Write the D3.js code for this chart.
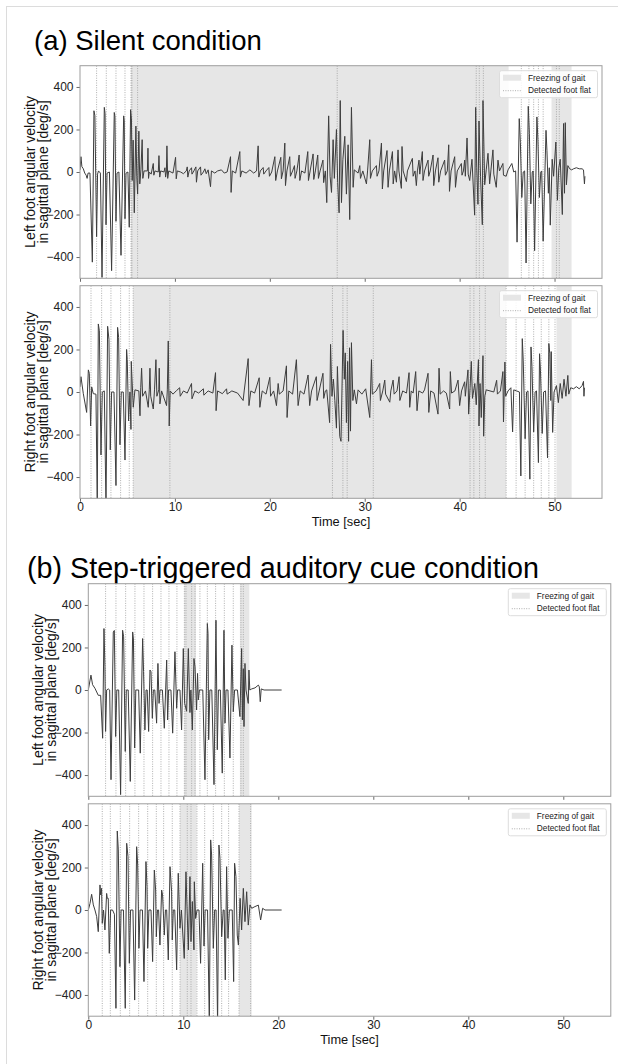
<!DOCTYPE html>
<html><head><meta charset="utf-8">
<script src="https://cdn.jsdelivr.net/npm/d3@7"></script>
<style>body{margin:0;background:#fff} svg{display:block}</style>
</head><body><svg id="c" width="618" height="1064"></svg>
<script>
// ---------- data ----------
const xTicks = [0, 10, 20, 30, 40, 50];
const yTicks = [-400, -200, 0, 200, 400];
const titleA = "(a) Silent condition";
const titleB = "(b) Step-triggered auditory cue condition";
const legendLabels = ["Freezing of gait", "Detected foot flat"];
const labelLeft = ["Left foot angular velocity", "in sagittal plane [deg/s]"];
const labelRight = ["Right foot angular velocity", "in sagittal plane [deg/s]"];

const fogSilentLeft = [[5.37, 45.16], [49.68, 51.79]];
const fogSilentRight = [[5.6, 44.9], [50.2, 51.8]];
const fogCueLeft = [[10.1, 11.33], [15.96, 16.95]];
const fogCueRight = [[9.65, 11.4], [15.86, 17.19]];

const flatSilentLeft = [1.75, 2.77, 3.79, 4.74, 5.37, 5.47, 6.07, 27.1, 41.75, 42.07, 42.5, 46.5, 47.3, 47.8, 48.3, 48.8, 50.2, 50.5];
const flatSilentRight = [1.16, 2.28, 3.26, 4.28, 5.19, 5.6, 9.47, 26.6, 27.7, 28.15, 30.9, 41.1, 41.5, 42.1, 42.7, 44.9, 45.95, 46.9, 47.8, 48.6, 49.4, 50.05];
const flatCueLeft = [1.82, 2.91, 3.93, 4.91, 5.86, 6.77, 7.65, 8.49, 9.33, 10.11, 10.28, 10.88, 11.23, 11.75, 12.53, 13.4, 14.32, 15.26, 16.07, 16.32];
const flatCueRight = [1.47, 2.32, 3.37, 4.35, 5.3, 6.25, 7.16, 7.93, 8.84, 9.65, 10.42, 10.81, 11.44, 12.25, 13.16, 14.04, 14.77, 15.86, 17.09];

// [time (s), angular velocity (deg/s)]
const silentLeft = [[0,10],[0.1,72],[0.2,25],[0.35,15],[0.5,-5],[0.65,-15],[0.75,-30],[0.85,-5],[1.05,-5],[1.3,-424],[1.47,288],[1.57,265],[1.75,-304],[1.85,-10],[1.95,5],[2.15,-5],[2.32,-496],[2.56,304],[2.64,275],[2.74,-248],[2.85,-5],[3.1,0],[3.33,-464],[3.61,280],[3.68,262],[3.79,-232],[3.9,-5],[4.1,0],[4.32,-392],[4.6,264],[4.66,240],[4.74,-220],[4.85,-5],[5.05,0],[5.19,-260],[5.33,293],[5.42,250],[5.5,-40],[5.6,150],[5.72,-192],[5.89,216],[5.98,-20],[6.07,-104],[6.2,192],[6.3,-56],[6.42,10],[6.55,152],[6.62,-30],[6.75,5],
[7.1,5],[7.16,112],[7.22,-30],[7.3,0],[7.5,-10],[7.72,40],[7.78,-15],[7.9,5],[8.25,0],[8.32,77],[8.4,-24],[8.5,5],[8.85,0],[8.95,20],[9.02,-24],[9.1,0],[9.16,123],[9.24,-30],[9.35,5],[9.8,-5],[10.07,69],[10.14,-32],[10.25,5],[10.6,0],[10.9,-8],[11.2,5],[11.3,24],[11.36,-24],[11.5,5],[11.75,20],[11.8,-10],[12.0,5],[12.21,24],[12.27,-48],[12.4,5],[12.7,24],[12.75,-15],[13.0,0],[13.16,15],[13.3,-8],[13.5,10],[13.75,-69],[13.85,5],[14.2,-5],[14.5,5],[14.9,10],[15.2,-5],[15.5,0],[15.86,72],[15.92,-96],[16.05,5],[16.4,-5],[16.84,96],[16.9,-24],[17.05,5],[17.5,-5],[17.9,10],[18.3,-5],[18.6,5],[18.77,123],[18.84,-24],[19.0,5],[19.3,21],[19.36,-10],[19.6,5],[19.9,21],[19.96,-20],[20.2,0],[20.53,72],[20.62,-40],[20.8,5],[21.16,69],[21.22,-32],[21.4,5],[21.58,136],[21.65,-64],[21.8,5],[22.1,72],[22.17,-20],[22.4,5],[22.6,30],[22.66,-30],[22.85,5],[23.09,80],[23.16,-40],[23.35,5],[23.7,-5],[24.0,96],[24.07,-40],[24.25,5],[24.56,85],[24.63,-35],[24.8,5],[25.05,80],[25.12,-30],[25.3,5],[25.6,56],[25.67,-50],[25.85,5],
[26.0,-144],[26.2,264],[26.35,-20],[26.5,-96],[26.67,152],[26.8,-30],[27.02,200],[27.15,-50],[27.3,-192],[27.42,336],[27.55,-144],[27.7,60],[27.9,168],[28.07,-104],[28.25,128],[28.42,-224],[28.6,304],[28.78,-72],[28.9,10],
[29.3,-5],[29.48,30],[29.55,-30],[29.8,5],[30.18,-56],[30.3,5],[30.53,152],[30.6,-30],[30.8,5],[31.23,30],[31.3,-20],[31.5,5],[31.76,136],[31.86,-80],[32.0,5],[32.35,101],[32.46,-72],[32.6,5],[32.92,96],[33.0,-56],[33.15,5],[33.34,-48],[33.51,104],[33.6,5],[33.86,-77],[33.93,120],[34.05,5],[34.39,-45],[34.5,5],[35.02,64],[35.1,-20],[35.3,5],[35.44,-64],[35.55,5],[35.72,56],[35.8,-10],[36.07,96],[36.14,-40],[36.3,5],[36.67,56],[36.74,-20],[36.9,5],[37.2,80],[37.27,-64],[37.45,5],[37.72,67],[37.8,-48],[38.0,5],[38.42,56],[38.5,-15],[38.7,5],[38.85,128],[38.93,-91],[39.1,5],[39.48,72],[39.56,-72],[39.75,5],[40.18,40],[40.25,-15],[40.4,5],[40.53,56],[40.6,-20],
[40.78,160],[40.9,-10],[41.06,-40],[41.3,60],[41.58,-203],[41.69,304],[41.8,20],[41.93,-152],[42.04,240],[42.2,-20],[42.39,-248],[42.46,336],[42.64,-60],[42.8,10],[42.99,88],[43.16,-56],[43.3,10],[43.51,104],[43.6,-10],[43.86,-72],[44.04,56],[44.2,5],[44.56,40],[44.62,-15],[44.9,-20],[45.1,10],[45.5,40],[45.7,0],[45.9,5],
[46.05,-330],[46.28,251],[46.4,140],[46.55,-120],[46.7,0],[46.85,5],[47.0,-428],[47.23,309],[47.35,180],[47.5,-150],[47.65,0],[47.75,5],[47.9,-370],[48.14,259],[48.25,150],[48.4,-120],[48.55,0],[48.65,5],[48.8,-325],[49.1,196],[49.2,100],[49.35,-100],[49.45,20],[49.55,-250],[49.75,60],[49.9,-20],[50.14,141],[50.3,-133],[50.45,20],[50.6,60],[50.82,-200],[50.95,228],[51.05,-100],[51.13,232],[51.25,-60],[51.4,30],
[51.6,15],[51.8,10],[52.0,15],[52.3,20],[52.6,15],[52.9,15],[53.05,10],[53.15,-56],[53.2,-20]];

const silentRight = [[0,24],[0.1,72],[0.35,-8],[0.7,-96],[0.88,104],[0.98,88],[1.12,-160],[1.23,24],[1.4,-8],[1.68,-10],[1.82,-540],[1.93,320],[2.04,288],[2.21,-296],[2.35,0],[2.56,5],[2.74,-540],[2.91,309],[3.05,248],[3.19,-272],[3.33,0],[3.58,0],[3.79,-440],[3.96,304],[4.07,256],[4.21,-248],[4.35,0],[4.56,0],[4.74,-320],[4.91,200],[4.98,152],[5.12,-136],[5.26,0],[5.37,-176],[5.4,144],[5.54,0],[5.61,-72],[5.79,10],
[6.2,5],[6.32,-112],[6.4,20],[6.49,112],[6.6,-20],[6.9,5],[7.19,-72],[7.3,10],[7.37,112],[7.45,-20],[7.72,-80],[7.85,10],[8.0,152],[8.1,-20],[8.3,10],[8.35,112],[8.42,-56],[8.6,5],[9.12,-64],[9.2,10],[9.3,240],[9.4,-160],[9.5,5],[9.8,-10],[10.2,8],[10.5,20],[10.56,-20],[10.9,5],[11.3,-5],[11.75,40],[11.8,-32],[12.1,5],[12.5,-5],[13.0,15],[13.05,-15],[13.5,5],[14.0,-5],[14.28,91],[14.34,-88],[14.5,5],[15.0,-8],[15.44,15],[15.5,-10],[16.0,5],[16.6,-5],[17.19,-40],[17.3,5],[17.72,157],[17.8,-64],[18.0,5],[18.4,-5],[18.88,67],[18.95,-72],[19.2,5],[19.6,-10],[20.0,69],[20.08,-20],[20.4,5],[20.7,-64],[20.88,40],[21.0,-10],[21.4,5],[21.75,123],[21.82,-120],[22.0,5],[22.4,-10],[22.8,152],[22.98,-64],[23.2,5],[23.6,-10],[24.03,80],[24.2,-64],[24.4,5],[24.9,72],[24.98,-40],[25.2,5],[25.6,88],[25.68,-30],[25.85,5],
[26.0,10],[26.3,-144],[26.4,224],[26.55,-20],[26.7,60],[26.85,-40],[27.02,-170],[27.12,120],[27.25,-60],[27.37,-210],[27.5,-232],[27.72,290],[27.85,60],[27.95,184],[28.07,-144],[28.2,144],[28.3,-232],[28.4,208],[28.5,-184],[28.6,232],[28.75,-40],[28.9,10],
[29.13,-56],[29.3,10],[29.7,-10],[30.1,15],[30.53,-120],[30.71,152],[30.8,-10],[31.2,5],[31.58,40],[31.65,-40],[31.9,5],[32.11,56],[32.2,-10],[32.64,-48],[32.75,5],[32.99,56],[33.1,-10],[33.4,5],[33.62,72],[33.7,-40],[34.0,5],[34.4,-5],[34.67,91],[34.74,-72],[34.9,5],[35.1,-5],[35.37,96],[35.51,-88],[35.7,5],[36.1,-5],[36.3,10],[36.67,88],[36.75,-96],[36.95,5],[37.3,-5],[37.72,-104],[37.83,112],[37.95,-10],[38.3,5],[38.6,-5],[38.95,-80],[39.02,96],[39.15,-5],[39.5,5],[39.83,56],[40.0,-64],[40.2,5],[40.53,48],[40.6,-20],
[40.88,104],[40.95,-104],[41.1,20],[41.23,144],[41.35,-30],[41.6,40],[41.75,-60],[41.98,152],[42.04,-160],[42.15,40],[42.28,-120],[42.46,171],[42.53,-208],[42.65,-20],[42.8,10],[43.2,5],[43.6,0],[43.9,55],[43.98,-10],[44.3,5],[44.56,96],[44.62,-141],[44.77,141],[44.85,-20],[45.1,5],[45.4,20],[45.58,-188],[45.7,10],[46.0,5],[46.3,0],
[46.45,-395],[46.6,251],[46.7,150],[46.9,-220],[47.05,0],[47.2,5],[47.4,-410],[47.52,212],[47.62,120],[47.8,-188],[47.95,0],[48.1,5],[48.3,-332],[48.42,180],[48.52,100],[48.7,-195],[48.85,0],[49.05,5],[49.26,-310],[49.4,228],[49.5,180],[49.6,-40],[49.65,190],[49.8,-190],[49.95,0],
[50.2,30],[50.4,-50],[50.6,40],[50.8,-30],[51.0,60],[51.2,-20],[51.4,78],[51.5,-10],[51.7,20],[52.0,15],[52.3,25],[52.6,15],[52.9,30],[53.05,50],[53.1,-20],[53.15,20]];

const cueLeft = [[0,0],[0.28,70],[0.45,25],[0.7,8],[1.05,-25],[1.3,-25],[1.51,-227],[1.65,289],[1.75,109],[1.82,-195],[1.93,0],[2.1,5],[2.25,0],[2.39,-422],[2.63,273],[2.74,280],[2.88,-219],[3.0,0],[3.2,0],[3.4,-492],[3.61,281],[3.72,250],[3.89,-289],[4.0,0],[4.2,0],[4.42,-430],[4.67,273],[4.75,240],[4.88,-273],[5.0,0],[5.3,0],[5.47,-297],[5.72,242],[5.82,86],[5.96,-188],[6.08,0],[6.2,0],[6.35,-195],[6.49,94],[6.6,86],[6.74,-133],[6.85,0],[7.0,0],[7.19,-156],[7.33,125],[7.45,-63],[7.55,0],[7.8,0],[8.0,-180],[8.25,141],[8.35,-141],[8.45,0],[8.7,0],[8.88,-203],[9.12,180],[9.3,-86],[9.4,0],[9.65,0],[9.82,-188],[10.0,195],[10.14,-63],[10.35,-100],[10.53,195],[10.7,-106],[10.8,0],[10.95,-188],[11.12,148],[11.23,109],[11.4,-94],[11.5,78],[11.58,-47],[11.7,0],[12.05,0],[12.28,-422],[12.53,313],[12.6,266],[12.67,-234],[12.8,0],[13.0,0],[13.23,-445],[13.44,328],[13.58,-281],[13.7,0],[13.9,0],[14.1,-391],[14.28,281],[14.39,-156],[14.5,0],[14.7,0],[14.91,-320],[15.12,211],[15.26,-102],[15.4,0],[15.7,0],[15.96,-125],[16.14,195],[16.22,-141],[16.32,100],[16.39,-172],[16.49,125],[16.6,0],[16.84,-63],[16.91,94],[17.0,0],[17.2,5],[17.55,10],[17.9,23],[18.0,15],[18.1,-55],[18.2,5],[18.5,0],[20.35,0]];

const cueRight = [[0,0],[0.18,31],[0.35,74],[0.53,24],[0.7,0],[0.88,-31],[1.05,-102],[1.23,118],[1.3,71],[1.4,102],[1.47,-63],[1.6,0],[1.75,-94],[1.93,78],[2.0,55],[2.1,55],[2.21,-204],[2.35,0],[2.55,0],[2.75,-20],[2.91,-463],[3.05,372],[3.16,283],[3.33,-267],[3.45,0],[3.7,0],[3.89,-463],[4.04,314],[4.18,251],[4.32,-251],[4.45,0],[4.7,0],[4.88,-424],[5.09,298],[5.2,212],[5.33,-180],[5.45,0],[5.7,0],[5.86,-337],[6.07,228],[6.18,110],[6.25,-180],[6.38,0],[6.6,0],[6.77,-243],[6.95,188],[7.09,94],[7.16,-126],[7.28,0],[7.4,0],[7.54,-165],[7.72,94],[7.82,71],[8.0,-118],[8.12,0],[8.25,0],[8.42,-235],[8.6,204],[8.77,86],[8.84,-141],[8.95,0],[9.1,0],[9.3,-282],[9.47,173],[9.65,-86],[9.8,0],[10.1,-228],[10.28,180],[10.53,-188],[10.7,157],[10.81,-149],[10.95,40],[11.12,-188],[11.16,133],[11.3,-40],[11.45,0],[11.65,0],[11.82,-251],[12.04,220],[12.18,-170],[12.3,0],[12.55,0],[12.74,-540],[12.88,330],[12.98,259],[13.16,-180],[13.3,0],[13.45,0],[13.61,-540],[13.75,306],[13.86,243],[14.04,-126],[14.2,0],[14.3,0],[14.42,-329],[14.56,204],[14.7,-133],[14.85,0],[15.15,0],[15.3,-337],[15.4,220],[15.54,157],[15.68,-118],[15.8,-165],[15.98,55],[16.14,-94],[16.32,102],[16.49,-55],[16.67,86],[16.84,-71],[17.02,24],[17.2,8],[17.54,16],[17.9,23],[18.14,-47],[18.35,8],[18.6,0],[20.35,0]];

// ---------- layout ----------
const svg = d3.select("#c");
const FONT = "'Liberation Sans', Arial, Helvetica, sans-serif";
svg.append("line").attr("x1",6).attr("x2",618).attr("y1",6.5).attr("y2",6.5).attr("stroke","#dcdcdc");
svg.append("line").attr("x1",6.5).attr("x2",6.5).attr("y1",6).attr("y2",1064).attr("stroke","#dcdcdc");

svg.append("text").attr("x",34).attr("y",50).attr("font-family",FONT).attr("font-size",27.5).attr("fill","#000").text(titleA);
svg.append("text").attr("x",27).attr("y",578).attr("font-family",FONT).attr("font-size",28.7).attr("fill","#000").text(titleB);

const panels = [
  {sig: silentLeft, fog: fogSilentLeft, flat: flatSilentLeft, label: labelLeft, x: 80, y: 65.7, w: 522, h: 212.6, xl: false, id: "p0"},
  {sig: silentRight, fog: fogSilentRight, flat: flatSilentRight, label: labelRight, x: 80, y: 285.7, w: 522, h: 212.6, xl: true, id: "p1"},
  {sig: cueLeft, fog: fogCueLeft, flat: flatCueLeft, label: labelLeft, x: 88.3, y: 583.7, w: 522.5, h: 212.6, xl: false, id: "p2"},
  {sig: cueRight, fog: fogCueRight, flat: flatCueRight, label: labelRight, x: 88.3, y: 803.8, w: 522.5, h: 212.4, xl: true, id: "p3"}
];

const fmt = d => d < 0 ? "\u2212" + Math.abs(d) : String(d);

panels.forEach(p => {
  const x = d3.scaleLinear().domain([0, 55]).range([p.x, p.x + p.w]);
  const y = d3.scaleLinear().domain([-500, 500]).range([p.y + p.h, p.y]);
  const g = svg.append("g");
  g.append("clipPath").attr("id", p.id).append("rect")
    .attr("x", p.x).attr("y", p.y).attr("width", p.w).attr("height", p.h);
  const inner = g.append("g").attr("clip-path", `url(#${p.id})`);
  inner.selectAll("rect.fog").data(p.fog).enter().append("rect")
    .attr("x", d => x(d[0])).attr("width", d => x(d[1]) - x(d[0]))
    .attr("y", p.y).attr("height", p.h).attr("fill", "#e6e6e6");
  inner.selectAll("line.flat").data(p.flat).enter().append("line")
    .attr("x1", d => x(d)).attr("x2", d => x(d)).attr("y1", p.y).attr("y2", p.y + p.h)
    .attr("stroke", "#9a9a9a").attr("stroke-width", 0.8).attr("stroke-dasharray", "1,1.4");
  inner.append("path").datum(p.sig)
    .attr("d", d3.line().x(d => x(d[0])).y(d => y(d[1])))
    .attr("fill", "none").attr("stroke", "#3d3d3d").attr("stroke-width", 1).attr("stroke-linejoin", "round");
  // axes
  const ya = g.append("g").attr("transform", `translate(${p.x},0)`)
    .call(d3.axisLeft(y).tickValues(yTicks).tickSize(3.5).tickPadding(3).tickFormat(fmt));
  ya.select(".domain").remove();
  ya.selectAll("line").attr("stroke", "#444").attr("stroke-width", 0.8);
  ya.selectAll("text").attr("font-family", FONT).attr("font-size", 12).attr("fill", "#222");
  const xa = g.append("g").attr("transform", `translate(0,${p.y + p.h})`)
    .call(d3.axisBottom(x).tickValues(xTicks).tickSize(3.5).tickPadding(1).tickFormat(p.xl ? d => d : () => ""));
  xa.select(".domain").remove();
  xa.selectAll("line").attr("stroke", "#444").attr("stroke-width", 0.8);
  xa.selectAll("text").attr("font-family", FONT).attr("font-size", 12).attr("fill", "#222");
  g.append("rect").attr("x", p.x).attr("y", p.y).attr("width", p.w).attr("height", p.h)
    .attr("fill", "none").attr("stroke", "#9d9d9d").attr("stroke-width", 1);
  if (p.xl) {
    g.append("text").attr("x", p.x + p.w / 2).attr("y", p.y + p.h + 27.5).attr("text-anchor", "middle")
      .attr("font-family", FONT).attr("font-size", 12.8).attr("fill", "#111").text("Time [sec]");
  }
  // y label
  const cy = p.y + p.h / 2;
  p.label.forEach((t, i) => {
    g.append("text").attr("transform", `translate(${p.x - 45.5 + i * 13},${cy}) rotate(-90)`)
      .attr("text-anchor", "middle").attr("font-family", FONT).attr("font-size", 14).attr("fill", "#111").text(t);
  });
  // legend
  const lx = p.x + p.w - 102.5, ly = p.y + 5;
  const lg = g.append("g");
  lg.append("rect").attr("x", lx).attr("y", ly).attr("width", 98).attr("height", 27)
    .attr("fill", "#fff").attr("fill-opacity", 0.85).attr("stroke", "#dddddd").attr("rx", 2);
  lg.append("rect").attr("x", lx + 3.5).attr("y", ly + 4).attr("width", 18).attr("height", 6).attr("fill", "#e6e6e6");
  lg.append("line").attr("x1", lx + 3.5).attr("x2", lx + 21.5).attr("y1", ly + 20).attr("y2", ly + 20)
    .attr("stroke", "#9a9a9a").attr("stroke-width", 0.8).attr("stroke-dasharray", "1,1.4");
  legendLabels.forEach((t, i) => {
    lg.append("text").attr("x", lx + 28.5).attr("y", ly + 10 + i * 12.5).attr("font-family", FONT)
      .attr("font-size", 8.3).attr("fill", "#222").text(t);
  });
});
</script></body></html>
